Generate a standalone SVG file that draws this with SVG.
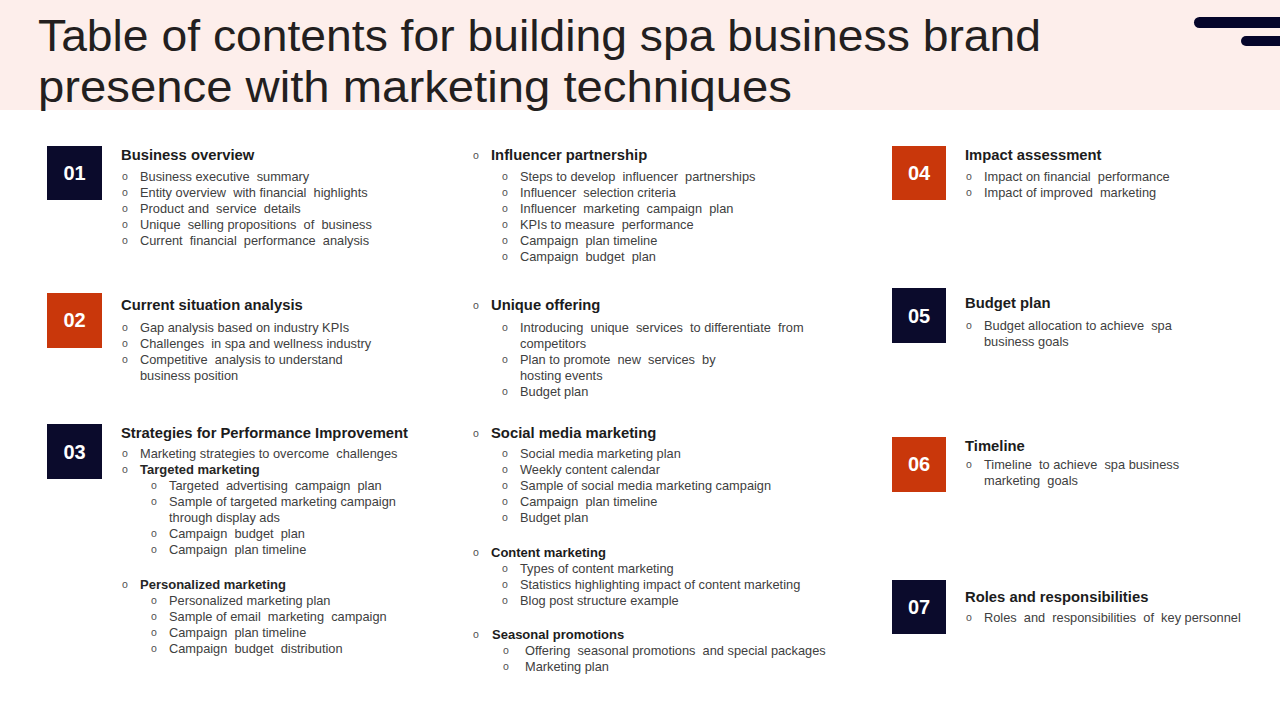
<svg xmlns="http://www.w3.org/2000/svg" width="1280" height="720" viewBox="0 0 1280 720" xml:space="preserve">
<style>
.title{font-family:"Liberation Sans",Arial,sans-serif;font-size:44px;fill:#231f20}
.num{font-family:"Liberation Sans",Arial,sans-serif;font-size:20px;font-weight:bold;fill:#ffffff;text-anchor:middle}
.h{font-family:"Liberation Sans",Arial,sans-serif;font-size:14.8px;font-weight:bold;fill:#1c1c1c}
.hs{font-family:"Liberation Sans",Arial,sans-serif;font-size:13px;font-weight:bold;fill:#1c1c1c}
.t{font-family:"Liberation Sans",Arial,sans-serif;font-size:12.8px;fill:#404040;white-space:pre}
.tb{font-family:"Liberation Sans",Arial,sans-serif;font-size:13px;font-weight:bold;fill:#262626}
.b{font-family:"Liberation Sans",Arial,sans-serif;font-size:10.5px;fill:#505050}
.dark{fill:#0b0b2c}
.red{fill:#c9370b}
</style>
<rect x="0" y="0" width="1280" height="720" fill="#ffffff"/>
<g id="header">
<rect x="0" y="0" width="1280" height="110" fill="#fdeeeb"/>
<text class="title" x="38" y="51" textLength="1003" lengthAdjust="spacingAndGlyphs">Table of contents for building spa business brand</text>
<text class="title" x="38" y="102" textLength="754" lengthAdjust="spacingAndGlyphs">presence with marketing techniques</text>
<path d="M1199.5 17 H1280 V28 H1199.5 A5.5 5.5 0 0 1 1199.5 17 Z" fill="#05052a"/>
<path d="M1246 36 H1280 V46 H1246 A5 5 0 0 1 1246 36 Z" fill="#05052a"/>
</g>

<g id="section-01">
<rect class="dark" x="47" y="146" width="55" height="54"/>
<text class="num" x="74.5" y="180">01</text>
<text class="h" x="121" y="160">Business overview</text>
<text class="b" x="122" y="180">o</text><text class="t" x="140" y="181">Business executive  summary</text>
<text class="b" x="122" y="196">o</text><text class="t" x="140" y="197">Entity overview  with financial  highlights</text>
<text class="b" x="122" y="212">o</text><text class="t" x="140" y="213">Product and  service  details</text>
<text class="b" x="122" y="228">o</text><text class="t" x="140" y="229">Unique  selling propositions  of  business</text>
<text class="b" x="122" y="244">o</text><text class="t" x="140" y="245">Current  financial  performance  analysis</text>
</g>

<g id="section-02">
<rect class="red" x="47" y="293" width="55" height="55"/>
<text class="num" x="74.5" y="327">02</text>
<text class="h" x="121" y="310">Current situation analysis</text>
<text class="b" x="122" y="331">o</text><text class="t" x="140" y="332">Gap analysis based on industry KPIs</text>
<text class="b" x="122" y="347">o</text><text class="t" x="140" y="348">Challenges  in spa and wellness industry</text>
<text class="b" x="122" y="363">o</text><text class="t" x="140" y="364">Competitive  analysis to understand</text>
<text class="t" x="140" y="380">business position</text>
</g>

<g id="section-03">
<rect class="dark" x="47" y="424" width="55" height="55"/>
<text class="num" x="74.5" y="459">03</text>
<text class="h" x="121" y="438">Strategies for Performance Improvement</text>
<text class="b" x="122" y="457">o</text><text class="t" x="140" y="458">Marketing strategies to overcome  challenges</text>
<text class="b" x="122" y="473">o</text><text class="tb" x="140" y="474">Targeted marketing</text>
<text class="b" x="151" y="489">o</text><text class="t" x="169" y="490">Targeted  advertising  campaign  plan</text>
<text class="b" x="151" y="505">o</text><text class="t" x="169" y="506">Sample of targeted marketing campaign</text>
<text class="t" x="169" y="522">through display ads</text>
<text class="b" x="151" y="537">o</text><text class="t" x="169" y="538">Campaign  budget  plan</text>
<text class="b" x="151" y="553">o</text><text class="t" x="169" y="554">Campaign  plan timeline</text>
<text class="b" x="122" y="588">o</text><text class="tb" x="140" y="589">Personalized marketing</text>
<text class="b" x="151" y="604">o</text><text class="t" x="169" y="605">Personalized marketing plan</text>
<text class="b" x="151" y="620">o</text><text class="t" x="169" y="621">Sample of email  marketing  campaign</text>
<text class="b" x="151" y="636">o</text><text class="t" x="169" y="637">Campaign  plan timeline</text>
<text class="b" x="151" y="652">o</text><text class="t" x="169" y="653">Campaign  budget  distribution</text>
</g>

<g id="section-03-influencer">
<text class="b" x="473" y="159">o</text><text class="h" x="491" y="160">Influencer partnership</text>
<text class="b" x="502" y="180">o</text><text class="t" x="520" y="181">Steps to develop  influencer  partnerships</text>
<text class="b" x="502" y="196">o</text><text class="t" x="520" y="197">Influencer  selection criteria</text>
<text class="b" x="502" y="212">o</text><text class="t" x="520" y="213">Influencer  marketing  campaign  plan</text>
<text class="b" x="502" y="228">o</text><text class="t" x="520" y="229">KPIs to measure  performance</text>
<text class="b" x="502" y="244">o</text><text class="t" x="520" y="245">Campaign  plan timeline</text>
<text class="b" x="502" y="260">o</text><text class="t" x="520" y="261">Campaign  budget  plan</text>
</g>

<g id="section-03-unique">
<text class="b" x="473" y="309">o</text><text class="h" x="491" y="310">Unique offering</text>
<text class="b" x="502" y="331">o</text><text class="t" x="520" y="332">Introducing  unique  services  to differentiate  from</text>
<text class="t" x="520" y="348">competitors</text>
<text class="b" x="502" y="363">o</text><text class="t" x="520" y="364">Plan to promote  new  services  by</text>
<text class="t" x="520" y="380">hosting events</text>
<text class="b" x="502" y="395">o</text><text class="t" x="520" y="396">Budget plan</text>
</g>

<g id="section-03-social">
<text class="b" x="473" y="437">o</text><text class="h" x="491" y="438">Social media marketing</text>
<text class="b" x="502" y="457">o</text><text class="t" x="520" y="458">Social media marketing plan</text>
<text class="b" x="502" y="473">o</text><text class="t" x="520" y="474">Weekly content calendar</text>
<text class="b" x="502" y="489">o</text><text class="t" x="520" y="490">Sample of social media marketing campaign</text>
<text class="b" x="502" y="505">o</text><text class="t" x="520" y="506">Campaign  plan timeline</text>
<text class="b" x="502" y="521">o</text><text class="t" x="520" y="522">Budget plan</text>
</g>

<g id="section-03-content">
<text class="b" x="473" y="556">o</text><text class="hs" x="491" y="557">Content marketing</text>
<text class="b" x="502" y="572">o</text><text class="t" x="520" y="573">Types of content marketing</text>
<text class="b" x="502" y="588">o</text><text class="t" x="520" y="589">Statistics highlighting impact of content marketing</text>
<text class="b" x="502" y="604">o</text><text class="t" x="520" y="605">Blog post structure example</text>
</g>

<g id="section-03-seasonal">
<text class="b" x="473" y="638">o</text><text class="hs" x="492" y="639">Seasonal promotions</text>
<text class="b" x="503" y="654">o</text><text class="t" x="525" y="655">Offering  seasonal promotions  and special packages</text>
<text class="b" x="503" y="670">o</text><text class="t" x="525" y="671">Marketing plan</text>
</g>

<g id="section-04">
<rect class="red" x="892" y="146" width="54" height="54"/>
<text class="num" x="919" y="180">04</text>
<text class="h" x="965" y="160">Impact assessment</text>
<text class="b" x="966" y="180">o</text><text class="t" x="984" y="181">Impact on financial  performance</text>
<text class="b" x="966" y="196">o</text><text class="t" x="984" y="197">Impact of improved  marketing</text>
</g>

<g id="section-05">
<rect class="dark" x="892" y="288" width="54" height="55"/>
<text class="num" x="919" y="323">05</text>
<text class="h" x="965" y="308">Budget plan</text>
<text class="b" x="966" y="329">o</text><text class="t" x="984" y="330">Budget allocation to achieve  spa</text>
<text class="t" x="984" y="346">business goals</text>
</g>

<g id="section-06">
<rect class="red" x="892" y="437" width="54" height="55"/>
<text class="num" x="919" y="471">06</text>
<text class="h" x="965" y="451">Timeline</text>
<text class="b" x="966" y="468">o</text><text class="t" x="984" y="469">Timeline  to achieve  spa business</text>
<text class="t" x="984" y="485">marketing  goals</text>
</g>

<g id="section-07">
<rect class="dark" x="892" y="580" width="54" height="54"/>
<text class="num" x="919" y="614">07</text>
<text class="h" x="965" y="602">Roles and responsibilities</text>
<text class="b" x="966" y="621">o</text><text class="t" x="984" y="622">Roles  and  responsibilities  of  key personnel</text>
</g>
</svg>
